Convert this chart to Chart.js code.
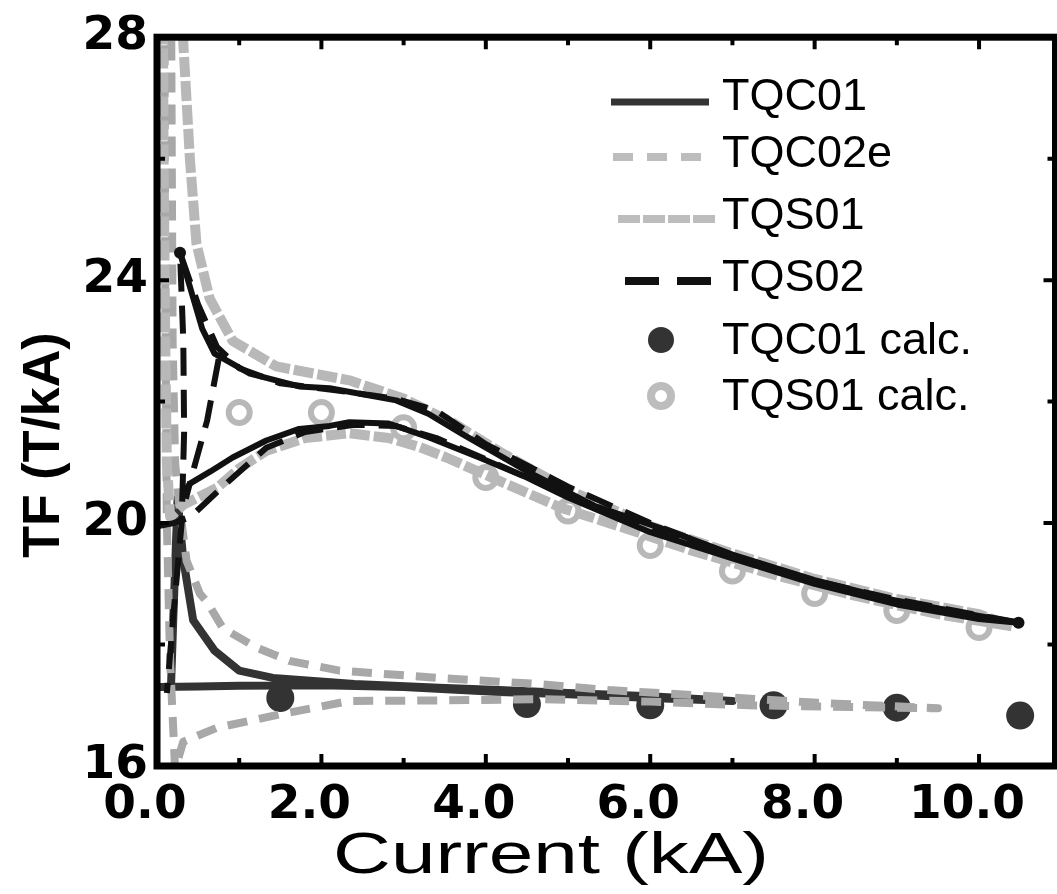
<!DOCTYPE html>
<html>
<head>
<meta charset="utf-8">
<title>TF vs Current</title>
<script src="https://cdn.jsdelivr.net/npm/chart.js@4/dist/chart.umd.min.js"></script>
<style>
  html, body { margin: 0; padding: 0; background: #fff; overflow: hidden; }
  #wrap { position: relative; width: 1072px; height: 894px; }
</style>
</head>
<body>
<div id="wrap"><canvas id="c"></canvas></div>
<script>
// Axis ticks
const xTickValues = [0, 2, 4, 6, 8, 10];
const yTickValues = [16, 20, 24, 28];

// TQC01 measured ramp (up along the flat branch, back along the upper branch)
const tqc01X = [0.03, 0.5, 1.0, 2.0, 3.0, 4.16, 5.0, 6.0, 7.0, 6.0, 5.0, 4.16, 3.43, 2.4, 1.41, 1.0, 0.7, 0.44, 0.32, 0.25, 0.2, 0.17];
const tqc01Y = [17.3, 17.31, 17.32, 17.33, 17.3, 17.22, 17.18, 17.12, 17.07, 17.15, 17.2, 17.25, 17.29, 17.35, 17.45, 17.57, 17.9, 18.4, 19.4, 20.4, 18.5, 17.3];

// TQC02e measured ramp
const tqc02eX = [0.17, 0.18, 0.19, 0.22, 0.27, 0.36, 0.52, 0.61, 0.8, 1.21, 1.61, 2.22, 3.43, 4.64, 5.5, 6.74, 8.04, 9.5, 8.5, 7.2, 6.0, 4.64, 3.43, 2.34, 1.53, 0.73, 0.32, 0.22, 0.16, 0.12, 0.1, 0.09];
const tqc02eY = [29, 26, 23, 21, 20.3, 19.38, 18.84, 18.7, 18.27, 17.95, 17.73, 17.57, 17.45, 17.35, 17.25, 17.15, 17.04, 16.95, 16.97, 17.0, 17.06, 17.1, 17.08, 17.07, 16.86, 16.63, 16.4, 15.95, 17.7, 20.0, 24.0, 29];

// TQS01 measured ramp
const tqs01X = [0.07, 0.08, 0.1, 0.12, 0.16, 0.32, 0.73, 1.0, 1.33, 1.8, 2.34, 2.82, 3.2, 3.52, 4.12, 4.92, 5.73, 6.5, 7.5, 8.5, 9.5, 10.4, 10.0, 9.0, 8.0, 7.0, 6.0, 5.0, 4.2, 3.6, 3.0, 2.34, 1.45, 0.92, 0.64, 0.48, 0.4, 0.32, 0.3];
const tqs01Y = [29, 26, 23, 21, 20.1, 20.3, 20.58, 20.9, 21.19, 21.4, 21.48, 21.4, 21.25, 21.08, 20.72, 20.25, 19.9, 19.55, 19.15, 18.8, 18.5, 18.3, 18.5, 18.75, 19.08, 19.5, 19.95, 20.55, 21.15, 21.65, 22.05, 22.35, 22.58, 23.0, 23.7, 24.6, 26.0, 27.9, 29];

// TQS02 measured ramp (dashed trace; null marks a break in the trace)
const tqs02X = [0.02, 0.2, 0.4, 0.8, 1.33, 1.8, 2.4, 2.9, 3.4, 4.0, 5.0, 6.0, 7.0, 8.0, 9.0, 10.0, 10.45, 10.0, 9.0, 8.0, 7.0, 6.0, 5.0, 4.0, 3.4, 2.9, 2.1, 1.5, 1.0, 0.73, 0.5, 0.28, 0.32, 0.33, 0.3, 0.2, 0.12, 0.5, 0.75, 0.61, 0.44, 0.35];
const tqs02Y = [19.95, 20.0, 20.09, 20.6, 21.24, 21.5, 21.62, 21.6, 21.4, 21.05, 20.45, 19.88, 19.45, 19.02, 18.7, 18.44, 18.37, 18.48, 18.74, 19.05, 19.47, 20.0, 20.6, 21.3, 21.85, 22.05, 22.2, 22.3, 22.55, 22.9, 23.6, 24.45, 23.0, 21.5, 20.0, 18.5, 17.2, null, 22.7, 21.69, 20.86, 20.4];

// TQS02 continuous trace (up along the lower branch, back along the upper branch)
const tqs02TraceX = [0.35, 0.4, 0.65, 0.92, 1.33, 1.73, 2.1, 2.34, 2.82, 3.31, 3.92, 4.5, 5.0, 6.0, 7.0, 8.0, 9.0, 10.0, 10.48, 10.0, 9.0, 8.0, 7.0, 6.34, 5.33, 4.52, 3.71, 3.3, 2.91, 2.1, 1.73, 1.13, 0.7, 0.55, 0.42, 0.28];
const tqs02TraceY = [20.55, 20.65, 20.85, 21.08, 21.36, 21.55, 21.6, 21.66, 21.64, 21.41, 21.08, 20.75, 20.42, 19.85, 19.42, 19.0, 18.66, 18.42, 18.36, 18.47, 18.72, 19.06, 19.48, 19.82, 20.28, 20.84, 21.47, 21.8, 22.02, 22.22, 22.25, 22.46, 22.79, 23.2, 23.8, 24.45];

// Calculated points
const tqc01CalcX = [1.5, 4.5, 6.0, 7.5, 9.0, 10.5];
const tqc01CalcY = [17.12, 17.02, 17.0, 17.0, 16.96, 16.83];
const tqs01CalcX = [1, 2, 3, 4, 5, 6, 7, 8, 9, 10];
const tqs01CalcY = [21.82, 21.82, 21.57, 20.75, 20.2, 19.63, 19.21, 18.84, 18.56, 18.28];

const toPoints = (xs, ys) => xs.map((x, i) => ({ x: x, y: ys[i] }));

const FONT = '"Liberation Sans", Arial, Helvetica, sans-serif';
const TICK_FONT = '"DejaVu Sans", Verdana, sans-serif';

// Legend entries, drawn inside the plot
const legendItems = [
  { text: 'TQC01',       kind: 'line', color: '#333333', width: 7, dash: [],       x0: 611, x1: 709, y: 102, ty: 98 },
  { text: 'TQC02e',      kind: 'line', color: '#bdbdbd', width: 8, dash: [20, 14], x0: 613, x1: 702, y: 157, ty: 155 },
  { text: 'TQS01',       kind: 'line', color: '#bdbdbd', width: 8, dash: [22, 3],  x0: 618, x1: 716, y: 219, ty: 217 },
  { text: 'TQS02',       kind: 'line', color: '#111111', width: 8, dash: [34, 18], x0: 625, x1: 711, y: 281, ty: 279 },
  { text: 'TQC01 calc.', kind: 'dot',  color: '#333333', cx: 661, y: 340, ty: 342 },
  { text: 'TQS01 calc.', kind: 'ring', color: '#bdbdbd', cx: 661, y: 396, ty: 398 }
];

const framePlugin = {
  id: 'frame',
  afterDraw(chart) {
    const { ctx, chartArea: a, scales } = chart;
    const xs = scales.x, ys = scales.y;
    ctx.save();
    // frame
    ctx.strokeStyle = '#000';
    ctx.lineWidth = 7;
    ctx.lineCap = 'square';
    ctx.strokeRect(a.left, a.top, a.right - a.left, a.bottom - a.top);
    // inward tick marks
    ctx.lineWidth = 4;
    ctx.lineCap = 'butt';
    for (let v = 0; v <= 11; v++) {
      const px = xs.getPixelForValue(v);
      const len = v % 2 === 0 ? 12 : 8;
      ctx.beginPath();
      ctx.moveTo(px, a.bottom); ctx.lineTo(px, a.bottom - len);
      ctx.moveTo(px, a.top); ctx.lineTo(px, a.top + len);
      ctx.stroke();
    }
    for (let v = 16; v <= 28; v += 2) {
      const py = ys.getPixelForValue(v);
      const len = v % 4 === 0 ? 12 : 8;
      ctx.beginPath();
      ctx.moveTo(a.left, py); ctx.lineTo(a.left + len, py);
      ctx.moveTo(a.right, py); ctx.lineTo(a.right - len, py);
      ctx.stroke();
    }
    ctx.fillStyle = '#000';
    ctx.textAlign = 'center';
    ctx.textBaseline = 'middle';
    // y axis title
    ctx.save();
    ctx.translate(45, 445);
    ctx.rotate(-Math.PI / 2);
    ctx.font = 'bold 52px ' + FONT;
    ctx.fillText('TF (T/kA)', 0, 0);
    ctx.restore();
    // x axis title (wide lettering)
    ctx.save();
    ctx.translate(551, 857);
    ctx.scale(1.38, 1);
    ctx.font = '58px ' + FONT;
    ctx.fillText('Current (kA)', 0, 0);
    ctx.restore();
    // legend
    ctx.font = '45px ' + FONT;
    ctx.textAlign = 'left';
    legendItems.forEach(it => {
      if (it.kind === 'line') {
        ctx.strokeStyle = it.color;
        ctx.lineWidth = it.width;
        ctx.setLineDash(it.dash);
        ctx.beginPath();
        ctx.moveTo(it.x0, it.y); ctx.lineTo(it.x1, it.y);
        ctx.stroke();
        ctx.setLineDash([]);
      } else if (it.kind === 'dot') {
        ctx.fillStyle = it.color;
        ctx.beginPath(); ctx.arc(it.cx, it.y, 13, 0, Math.PI * 2); ctx.fill();
      } else {
        ctx.strokeStyle = it.color;
        ctx.lineWidth = 8;
        ctx.beginPath(); ctx.arc(it.cx, it.y, 10, 0, Math.PI * 2); ctx.stroke();
      }
      ctx.fillStyle = '#000';
      ctx.fillText(it.text, 722, it.ty);
    });
    ctx.restore();
  }
};

const lineBase = { pointRadius: 0, fill: false, tension: 0, spanGaps: false, borderJoinStyle: 'round' };

new Chart(document.getElementById('c'), {
  type: 'line',
  data: {
    datasets: [
      Object.assign({}, lineBase, {
        label: 'TQS02', data: toPoints(tqs02X, tqs02Y),
        borderColor: '#111111', borderWidth: 6, borderDash: [28, 14]
      }),
      Object.assign({}, lineBase, {
        label: 'TQS02 trace', data: toPoints(tqs02TraceX, tqs02TraceY),
        borderColor: '#111111', borderWidth: 6,
        pointRadius: tqs02TraceX.map((x, i) => (i === 18 || i === tqs02TraceX.length - 1) ? 6 : 0),
        pointBackgroundColor: '#111111', pointBorderWidth: 0
      }),
      Object.assign({}, lineBase, {
        label: 'TQS01', data: toPoints(tqs01X, tqs01Y),
        borderColor: '#b8b8b8', borderWidth: 10, borderDash: [20, 4]
      }),
      Object.assign({}, lineBase, {
        label: 'TQC02e', data: toPoints(tqc02eX, tqc02eY),
        borderColor: '#a8a8a8', borderWidth: 8, borderDash: [20, 12]
      }),
      Object.assign({}, lineBase, {
        label: 'TQC01', data: toPoints(tqc01X, tqc01Y),
        borderColor: '#333333', borderWidth: 8
      }),
      {
        label: 'TQS01 calc.', data: toPoints(tqs01CalcX, tqs01CalcY), showLine: false,
        pointRadius: 10.5, pointBorderWidth: 6, pointBorderColor: '#b8b8b8',
        pointBackgroundColor: 'rgba(0,0,0,0)'
      },
      {
        label: 'TQC01 calc.', data: toPoints(tqc01CalcX, tqc01CalcY), showLine: false,
        pointRadius: 14, pointBorderWidth: 0, pointBackgroundColor: '#333333'
      }
    ]
  },
  options: {
    responsive: true,
    maintainAspectRatio: false,
    animation: false,
    devicePixelRatio: 1,
    layout: { padding: { left: 0, top: 37, right: 8, bottom: 0 } },
    plugins: { legend: { display: false }, tooltip: { enabled: false } },
    scales: {
      x: {
        type: 'linear', min: 0, max: 10.93,
        afterBuildTicks: s => { s.ticks = xTickValues.map(v => ({ value: v })); },
        afterFit: s => { s.height = 128; },
        grid: { display: false, drawTicks: false },
        border: { display: false },
        ticks: {
          padding: 12, labelOffset: -12, color: '#000', maxRotation: 0, autoSkip: false,
          font: { family: TICK_FONT, size: 47, weight: 'bold' },
          callback: v => Number(v).toFixed(1)
        }
      },
      y: {
        type: 'linear', min: 16, max: 28,
        afterBuildTicks: s => { s.ticks = yTickValues.map(v => ({ value: v })); },
        afterFit: s => { s.width = 157; },
        grid: { display: false, drawTicks: false },
        border: { display: false },
        ticks: {
          padding: 9, color: '#000', autoSkip: false,
          font: { family: TICK_FONT, size: 47, weight: 'bold' },
          callback: v => String(v)
        }
      }
    }
  },
  plugins: [framePlugin]
});
</script>
</body>
</html>
